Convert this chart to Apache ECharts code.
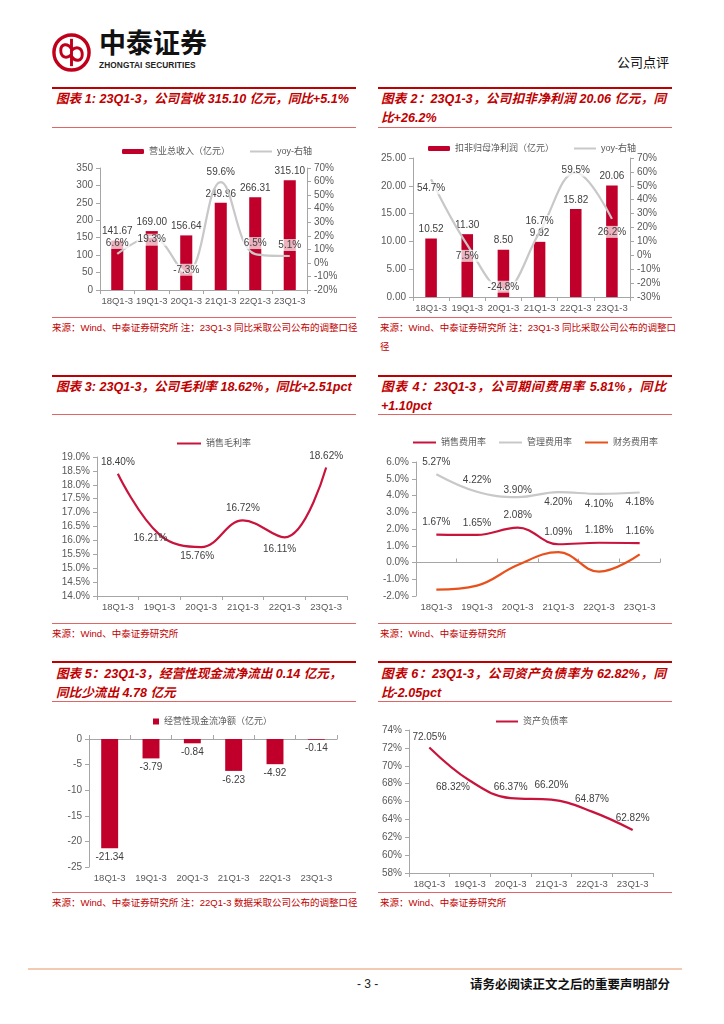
<!DOCTYPE html>
<html><head><meta charset="utf-8">
<script src="https://cdn.jsdelivr.net/npm/echarts@6/dist/echarts.min.js"></script>
<style>
body{margin:0;width:724px;height:1024px;position:relative;background:#fff;font-family:"Liberation Sans","Noto Sans CJK SC",sans-serif;overflow:hidden}
.abs{position:absolute}
.thick{position:absolute;height:2px;background:#c00000}
.thin{position:absolute;height:1px;background:#e06666}
.title{position:absolute;color:#c00000;font-weight:bold;font-style:italic;font-size:12.6px;line-height:19px;white-space:nowrap}
.just{text-align:justify;text-align-last:justify}
.src{position:absolute;color:#c00000;font-size:9.5px;line-height:19px;white-space:nowrap}
.chart{position:absolute}
</style></head><body>

<svg class="abs" style="left:51px;top:32px" width="41" height="41" viewBox="0 0 42 42">
<circle cx="21" cy="21" r="18" fill="none" stroke="#c0001a" stroke-width="3.5"/>
<line x1="21" y1="7" x2="21" y2="35" stroke="#c0001a" stroke-width="3"/>
<path d="M21 17 C 17 11, 10 12, 10 19 C 10 26, 16 28, 21 23" fill="none" stroke="#c0001a" stroke-width="3"/>
<path d="M21 25 C 25 31, 32 30, 32 23 C 32 16, 26 14, 21 19" fill="none" stroke="#c0001a" stroke-width="3"/>
</svg>
<div class="abs" style="left:99px;top:27px;font-size:27px;font-weight:bold;color:#111;line-height:30px;font-family:'Noto Sans CJK SC'">中泰证券</div>
<div class="abs" style="left:99px;top:60px;font-size:8.3px;font-weight:bold;color:#222;line-height:10px;letter-spacing:0.1px">ZHONGTAI SECURITIES</div>
<div class="abs" style="left:617px;top:53px;font-size:13px;color:#111;line-height:18px;font-family:'Noto Sans CJK SC'">公司点评</div>

<!-- row 1 -->
<div class="thick" style="left:52px;top:87px;width:304px"></div>
<div class="thick" style="left:378px;top:87px;width:294px"></div>
<div class="title" style="left:56px;top:90px">图表 1: 23Q1-3，公司营收 315.10 亿元，同比+5.1%</div>
<div class="title just" style="left:381px;top:90px;width:285px">图表 2：23Q1-3，公司扣非净利润 20.06 亿元，同</div>
<div class="title" style="left:381px;top:109px">比+26.2%</div>
<div class="thin" style="left:52px;top:127px;width:304px"></div>
<div class="thin" style="left:378px;top:127px;width:294px"></div>
<div class="chart" id="c1" style="left:52px;top:130px;width:304px;height:185px"></div>
<div class="chart" id="c2" style="left:378px;top:130px;width:294px;height:185px"></div>
<div class="thin" style="left:52px;top:317px;width:304px"></div>
<div class="thin" style="left:378px;top:317px;width:294px"></div>
<div class="src" style="left:52px;top:318px">来源：Wind、中泰证券研究所 注：23Q1-3 同比采取公司公布的调整口径</div>
<div class="src" style="left:380px;top:318px">来源：Wind、中泰证券研究所 注：23Q1-3 同比采取公司公布的调整口<br>径</div>

<!-- row 2 -->
<div class="thick" style="left:52px;top:375px;width:304px"></div>
<div class="thick" style="left:378px;top:375px;width:294px"></div>
<div class="title" style="left:56px;top:378px">图表 3: 23Q1-3，公司毛利率 18.62%，同比+2.51pct</div>
<div class="title just" style="left:381px;top:378px;width:285px">图表 4：23Q1-3，公司期间费用率 5.81%，同比</div>
<div class="title" style="left:381px;top:397px">+1.10pct</div>
<div class="thin" style="left:52px;top:414px;width:304px"></div>
<div class="thin" style="left:378px;top:414px;width:294px"></div>
<div class="chart" id="c3" style="left:52px;top:420px;width:304px;height:200px"></div>
<div class="chart" id="c4" style="left:378px;top:420px;width:294px;height:200px"></div>
<div class="thin" style="left:52px;top:623px;width:304px"></div>
<div class="thin" style="left:378px;top:623px;width:294px"></div>
<div class="src" style="left:52px;top:624px">来源：Wind、中泰证券研究所</div>
<div class="src" style="left:380px;top:624px">来源：Wind、中泰证券研究所</div>

<!-- row 3 -->
<div class="thick" style="left:52px;top:661px;width:304px"></div>
<div class="thick" style="left:378px;top:661px;width:294px"></div>
<div class="title" style="left:56px;top:665px">图表 5：23Q1-3，经营性现金流净流出 0.14 亿元，</div>
<div class="title" style="left:56px;top:684px">同比少流出 4.78 亿元</div>
<div class="title just" style="left:381px;top:665px;width:285px">图表 6：23Q1-3，公司资产负债率为 62.82%，同</div>
<div class="title" style="left:381px;top:684px">比-2.05pct</div>
<div class="thin" style="left:52px;top:701px;width:304px"></div>
<div class="thin" style="left:378px;top:701px;width:294px"></div>
<div class="chart" id="c5" style="left:52px;top:705px;width:304px;height:185px"></div>
<div class="chart" id="c6" style="left:378px;top:705px;width:294px;height:185px"></div>
<div class="thin" style="left:52px;top:892px;width:304px"></div>
<div class="thin" style="left:378px;top:892px;width:294px"></div>
<div class="src" style="left:52px;top:893px">来源：Wind、中泰证券研究所 注：22Q1-3 数据采取公司公布的调整口径</div>
<div class="src" style="left:380px;top:893px">来源：Wind、中泰证券研究所</div>

<!-- footer -->
<div class="abs" style="left:28px;top:968px;width:654px;height:2px;background:#f2c9b1"></div>
<div class="abs" style="left:357px;top:976px;font-size:12px;color:#222;line-height:16px">- 3 -</div>
<div class="abs" style="left:470px;top:975px;font-size:12.5px;font-weight:bold;color:#111;line-height:17px;font-family:'Noto Sans CJK SC'">请务必阅读正文之后的重要声明部分</div>

<script>
// ---------- data ----------
const categories = ['18Q1-3','19Q1-3','20Q1-3','21Q1-3','22Q1-3','23Q1-3'];
const revenue    = [141.67, 169.00, 156.64, 249.96, 266.31, 315.10];
const revenueYoy = [6.6, 19.3, -7.3, 59.6, 6.5, 5.1];
const profit     = [10.52, 11.30, 8.50, 9.92, 15.82, 20.06];
const profitYoy  = [54.7, 7.5, -24.8, 16.7, 59.5, 26.2];
const grossMargin = [18.40, 16.21, 15.76, 16.72, 16.11, 18.62];
const sellRate   = [1.67, 1.65, 2.08, 1.09, 1.18, 1.16];
const mgmtRate   = [5.27, 4.22, 3.90, 4.20, 4.10, 4.18];
const finRate    = [-1.62, -1.38, -0.15, 0.62, -0.55, 0.48];
const cashFlow   = [-21.34, -3.79, -0.84, -6.23, -4.92, -0.14];
const debtRatio  = [72.05, 68.32, 66.37, 66.20, 64.87, 62.82];

const revTicks = [0, 350, 50];
const revYoyTicks = [-20, 70, 10];
const profitTicks = [0, 25, 5];
const profitYoyTicks = [-30, 70, 10];
const gmTicks = [14, 19, 0.5];
const feeTicks = [-2, 6, 1];
const cashTicks = [-25, 0, 5];
const debtTicks = [58, 74, 2];

// ---------- label placement (style only) ----------
const T = (d, o) => ({position:'top', distance:d, offset:o||[0,0]});
const B = (d, o) => ({position:'bottom', distance:d, offset:o||[0,0]});
const I = (o) => ({position:'inside', offset:o||[0,0]});
const revYoyLbl = [T(4), B(0,[0,-4]), I([0,-3]), T(3), T(4), T(4)];
const profitYoyLbl = [B(2), B(4), I([0,-3]), T(4), T(-5), B(6)];
const gmLbl = [T(5,[0,0]), B(0,[-9,-2]), B(3,[-4,0]), T(6), B(6,[-5,0]), T(5)];
const mgmtLbl = [T(6), T(6), T(1), B(4), B(4), B(4)];
const sellLbl = [T(6), T(6), T(6), T(6), T(6), T(6)];
const debtLbl = [T(4), B(2,[-17,-2]), T(5), T(8), T(6), T(6)];

// ---------- styles ----------
const FONT = '"Liberation Sans","Noto Sans CJK SC",sans-serif';
const RED = '#c0002b';
const LRED = '#c8143c';
const GRAY = '#c8c8c8';
const ORANGE = '#e8501c';
const AX = '#a6a6a6';
const TXT = '#595959';
const LBL = {show:true, color:'#404040', fontSize:10, fontFamily:FONT};

function items(vals, lbls){ return vals.map((v,i)=>({value:v, label: lbls ? Object.assign({}, lbls[i]) : undefined})); }
function catAxis(extra){
  return Object.assign({type:'category', data:categories, boundaryGap:true,
    axisLine:{show:true, onZero:false, lineStyle:{color:AX}},
    axisTick:{show:true, length:4, interval:0, lineStyle:{color:AX}},
    axisLabel:{color:TXT, fontSize:9.5, fontFamily:FONT, margin:7, interval:0},
    splitLine:{show:false}}, extra||{});
}
function valAxis(t, fmt, extra){
  return Object.assign({type:'value', min:t[0], max:t[1], interval:t[2],
    axisLine:{show:true, lineStyle:{color:AX}},
    axisTick:{show:true, length:4, lineStyle:{color:AX}},
    axisLabel:{color:TXT, fontSize:10, fontFamily:FONT, margin:7, formatter:fmt},
    splitLine:{show:false}}, extra||{});
}
function legend(left, top, extra){
  return Object.assign({left:left, top:top, itemWidth:22, itemHeight:5, itemGap:19,
    textStyle:{color:TXT, fontSize:9, fontFamily:FONT}}, extra||{});
}
function grid(l,t,w,h){ return {left:l, top:t, width:w, height:h, containLabel:false, outerBoundsMode:'none'}; }
function lineSeries(name, data, color, lbls, fmt, extra){
  return Object.assign({name:name, type:'line', smooth:0.4, symbol:'circle', symbolSize:2,
    itemStyle:{color:'rgba(0,0,0,0)'}, lineStyle:{color:color, width:2.2},
    data: items(data, lbls),
    label: Object.assign({}, LBL, {formatter: fmt})}, extra||{});
}
const pct1 = p => p.value.toFixed(1) + '%';
const pct2 = p => p.value.toFixed(2) + '%';
const zeroAxis = () => catAxis({axisLine:{show:true, onZero:true, lineStyle:{color:AX}}, axisLabel:{show:false}});
const bottomLabelAxis = () => catAxis({axisLine:{show:false, onZero:false}, axisTick:{show:false}});

// ---------- chart 1 ----------
echarts.init(document.getElementById('c1')).setOption({
  animation:false,
  legend: legend(65, 12, {data:['营业总收入（亿元）','yoy-右轴']}),
  grid: grid(48, 38, 207, 122),
  xAxis: catAxis(),
  yAxis: [valAxis(revTicks, v=>v), valAxis(revYoyTicks, v=>v+'%', {position:'right'})],
  series: [
    {name:'营业总收入（亿元）', type:'bar', data:revenue, barWidth:'35%', itemStyle:{color:RED},
     label:Object.assign({}, LBL, {position:'top', distance:4, formatter:p=>p.value.toFixed(2)})},
    lineSeries('yoy-右轴', revenueYoy, GRAY, revYoyLbl, pct1,
      {yAxisIndex:1, label:Object.assign({}, LBL, {formatter:pct1, backgroundColor:'rgba(255,255,255,0.7)', padding:[1,1]})})
  ]
});

// ---------- chart 2 ----------
echarts.init(document.getElementById('c2')).setOption({
  animation:false,
  legend: legend(45, 9, {data:['扣非归母净利润（亿元）','yoy-右轴']}),
  grid: grid(35, 28, 217, 139),
  xAxis: catAxis(),
  yAxis: [valAxis(profitTicks, v=>v.toFixed(2)), valAxis(profitYoyTicks, v=>v+'%', {position:'right'})],
  series: [
    {name:'扣非归母净利润（亿元）', type:'bar', data:profit, barWidth:'32%', itemStyle:{color:RED},
     label:Object.assign({}, LBL, {position:'top', distance:4, formatter:p=>p.value.toFixed(2)})},
    lineSeries('yoy-右轴', profitYoy, GRAY, profitYoyLbl, pct1,
      {yAxisIndex:1, label:Object.assign({}, LBL, {formatter:pct1, backgroundColor:'rgba(255,255,255,0.7)', padding:[1,1]})})
  ]
});

// ---------- chart 3 ----------
echarts.init(document.getElementById('c3')).setOption({
  animation:false,
  legend: legend(119, 14, {data:['销售毛利率'], itemWidth:24}),
  grid: grid(45, 37, 250, 139),
  xAxis: catAxis(),
  yAxis: valAxis(gmTicks, v=>v.toFixed(1)+'%'),
  series: [lineSeries('销售毛利率', grossMargin, LRED, gmLbl, pct2)]
});

// ---------- chart 4 ----------
echarts.init(document.getElementById('c4')).setOption({
  animation:false,
  legend: legend(29, 13, {data:['销售费用率','管理费用率','财务费用率'], itemWidth:23, itemGap:12}),
  grid: grid(38, 42, 244, 134),
  xAxis: [bottomLabelAxis(), zeroAxis()],
  yAxis: valAxis(feeTicks, v=>v.toFixed(1)+'%'),
  series: [
    lineSeries('销售费用率', sellRate, LRED, sellLbl, pct2),
    lineSeries('管理费用率', mgmtRate, GRAY, mgmtLbl, pct2),
    lineSeries('财务费用率', finRate, ORANGE, null, pct2, {label:{show:false}})
  ]
});

// ---------- chart 5 ----------
echarts.init(document.getElementById('c5')).setOption({
  animation:false,
  legend: legend(96, 7, {data:[{name:'经营性现金流净额（亿元）', icon:'rect'}], itemWidth:6, itemHeight:6, itemGap:6}),
  grid: grid(37, 34, 248, 128),
  xAxis: [bottomLabelAxis(), zeroAxis()],
  yAxis: valAxis(cashTicks, v=>v),
  series: [
    {name:'经营性现金流净额（亿元）', type:'bar', data:cashFlow, barWidth:'41%', itemStyle:{color:RED},
     label:Object.assign({}, LBL, {position:'bottom', distance:4, formatter:p=>p.value.toFixed(2)})}
  ]
});

// ---------- chart 6 ----------
echarts.init(document.getElementById('c6')).setOption({
  animation:false,
  legend: legend(112, 7, {data:['资产负债率'], itemWidth:22}),
  grid: grid(31, 25, 244, 143),
  xAxis: catAxis(),
  yAxis: valAxis(debtTicks, v=>v+'%'),
  series: [lineSeries('资产负债率', debtRatio, LRED, debtLbl, pct2)]
});
</script>
</body></html>
